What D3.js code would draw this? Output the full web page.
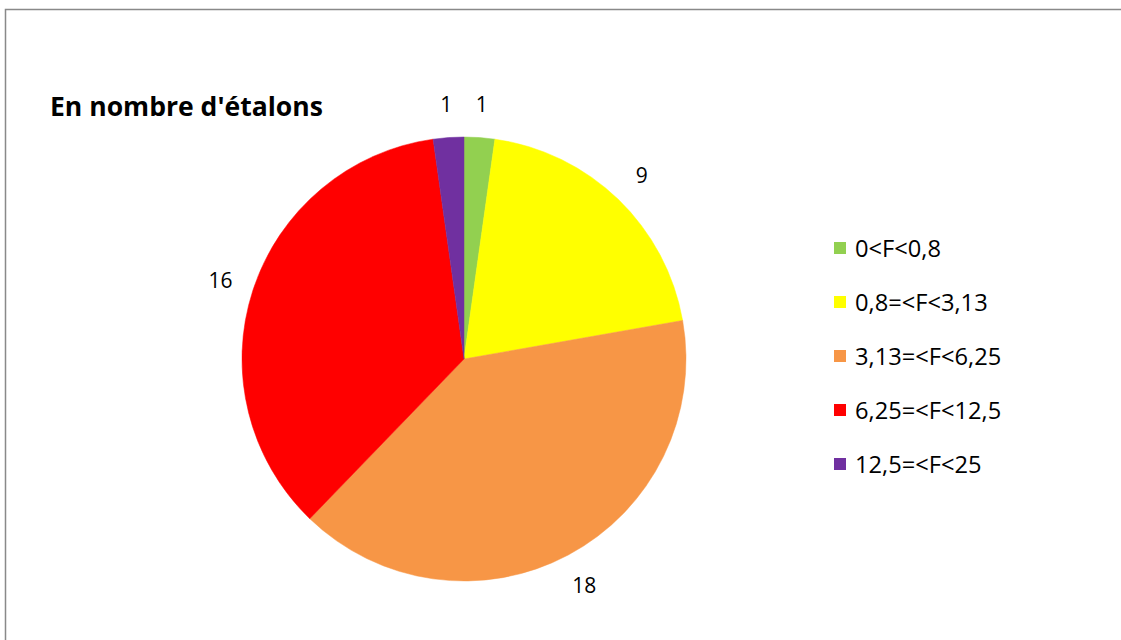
<!DOCTYPE html>
<html>
<head>
<meta charset="utf-8">
<script src="https://cdn.jsdelivr.net/npm/d3@7"></script>
<style>
  html, body { margin: 0; padding: 0; background: #fff; }
  svg { display: block; }
  text { font-family: "Open Sans", Lato, sans-serif; fill: #000; }
</style>
</head>
<body>
<svg id="chart" width="1121" height="640"></svg>
<script>
const categories = ["0<F<0,8", "0,8=<F<3,13", "3,13=<F<6,25", "6,25=<F<12,5", "12,5=<F<25"];
const values = [1, 9, 18, 16, 1];
const colors = ["#92D050", "#FFFF00", "#F79646", "#FF0000", "#7030A0"];
const title = "En nombre d'étalons";

const svg = d3.select("#chart");

// chart area border (top and left visible)
svg.append("rect")
  .attr("x", 5.5).attr("y", 9.5)
  .attr("width", 1121).attr("height", 640)
  .attr("fill", "none").attr("stroke", "#898989").attr("stroke-width", 1.5);

// fit a text's font size to a target width
function fit(sel, target) {
  const node = sel.node();
  const fs = parseFloat(sel.attr("font-size"));
  const w = node.getComputedTextLength();
  if (w > 0) sel.attr("font-size", (fs * target / w).toFixed(2));
}

const t = svg.append("text")
  .attr("x", 50).attr("y", 116)
  .attr("font-size", 24).attr("font-weight", "bold")
  .text(title);
fit(t, 273);

const cx = 464, cy = 359, r = 222, labelR = 256;
const pie = d3.pie().sort(null).value(d => d.v);
const arcs = pie(values.map((v, i) => ({ v, i })));
const arc = d3.arc().innerRadius(0).outerRadius(r);
const labelArc = d3.arc().innerRadius(labelR).outerRadius(labelR);

const g = svg.append("g").attr("transform", `translate(${cx},${cy})`);
g.selectAll("path").data(arcs).join("path")
  .attr("d", arc)
  .attr("fill", d => colors[d.data.i])
  .attr("stroke", d => colors[d.data.i]).attr("stroke-width", 0.5);

g.selectAll("text.lbl").data(arcs).join("text")
  .attr("class", "lbl")
  .attr("transform", d => `translate(${labelArc.centroid(d)})`)
  .attr("text-anchor", "middle")
  .attr("dominant-baseline", "central")
  .attr("font-size", 21)
  .text(d => d.data.v);

const legendY = d3.scalePoint().domain(categories).range([248, 464]);
const lg = svg.append("g");
const items = lg.selectAll("g").data(categories).join("g")
  .attr("transform", d => `translate(834,${legendY(d)})`);
items.append("rect")
  .attr("x", 0).attr("y", -6).attr("width", 12).attr("height", 12)
  .attr("fill", (d, i) => colors[i]);
const lt = items.append("text")
  .attr("x", 21).attr("y", 0)
  .attr("dominant-baseline", "central")
  .attr("font-size", 20)
  .text(d => d);
// fit legend font size using first entry
const first = lt.filter((d, i) => i === 0);
const fs0 = 20, w0 = first.node().getComputedTextLength();
lt.attr("font-size", (fs0 * 86 / w0).toFixed(2));
</script>
</body>
</html>
